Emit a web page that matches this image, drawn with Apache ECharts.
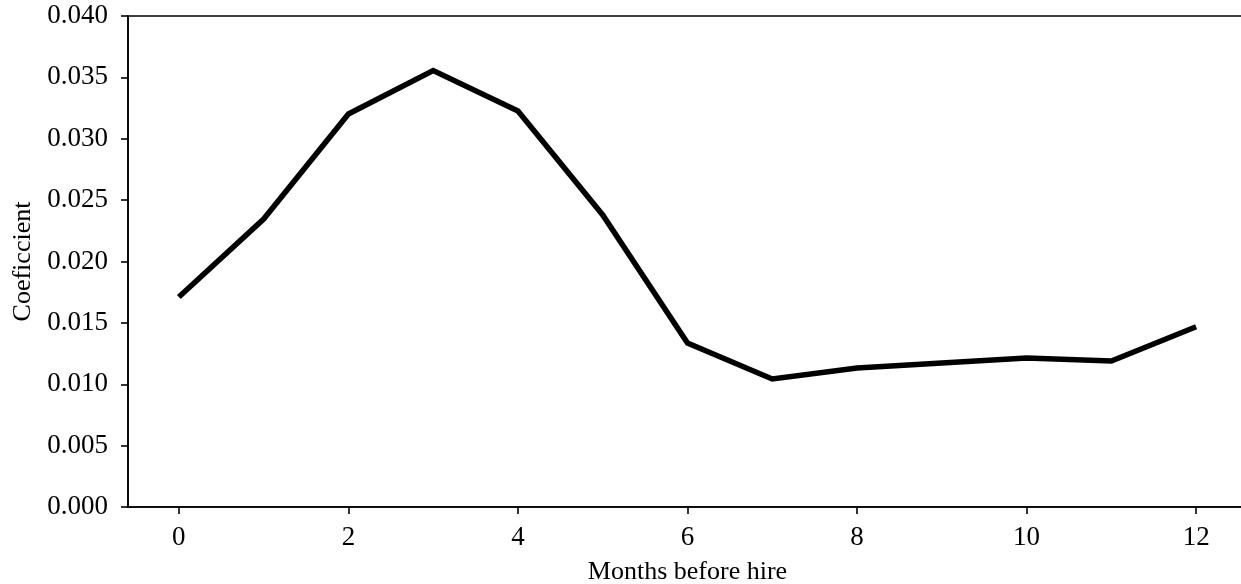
<!DOCTYPE html>
<html><head><meta charset="utf-8">
<script src="https://cdn.jsdelivr.net/npm/echarts@6/dist/echarts.min.js"></script>
<style>html,body{margin:0;padding:0;background:#fff}#c{width:1241px;height:584px}</style>
</head><body><div id="c"></div>
<script>
const months = [0,1,2,3,4,5,6,7,8,9,10,11,12];
const coefficients = [0.0171,0.02346,0.03202,0.03556,0.03226,0.02379,0.01336,0.01043,0.01132,0.01173,0.01214,0.01190,0.01469];
const xTicks = [0,2,4,6,8,10,12];
const FONT = '"Liberation Serif","DejaVu Serif",serif';
const chart = echarts.init(document.getElementById('c'), null, {renderer:'canvas'});
chart.setOption({
  animation:false,
  backgroundColor:'#fff',
  grid:{left:128, top:16, right:-6, bottom:77, outerBoundsMode:'none', containLabel:false,
        show:true, borderColor:'#000', borderWidth:1.6, backgroundColor:'transparent'},
  xAxis:{
    type:'value', min:-0.6, max:12.6,
    name:'Months before hire', nameLocation:'middle', nameGap:52,
    nameTextStyle:{fontFamily:FONT, fontSize:26, color:'#000'},
    axisLine:{show:true, onZero:false, lineStyle:{color:'#000', width:1.6}},
    axisTick:{show:true, length:7, lineStyle:{color:'#000', width:1.6}, customValues:xTicks},
    axisLabel:{fontFamily:FONT, fontSize:27, color:'#000', margin:17, customValues:xTicks},
    splitLine:{show:false}
  },
  yAxis:{
    type:'value', min:0, max:0.04, interval:0.005,
    name:'Coeficcient', nameLocation:'middle', nameGap:92,
    nameTextStyle:{fontFamily:FONT, fontSize:26, color:'#000'},
    axisLine:{show:true, onZero:false, lineStyle:{color:'#000', width:1.6}},
    axisTick:{show:true, length:7, lineStyle:{color:'#000', width:1.6}},
    axisLabel:{fontFamily:FONT, fontSize:27, color:'#000', margin:20, formatter:v=>v.toFixed(3)},
    splitLine:{show:false}
  },
  series:[{
    type:'line',
    data:months.map((m,i)=>[m,coefficients[i]]),
    showSymbol:false,
    lineStyle:{color:'#000', width:5.5, join:'miter', cap:'butt'},
    itemStyle:{color:'#000'}
  }]
});
</script></body></html>
